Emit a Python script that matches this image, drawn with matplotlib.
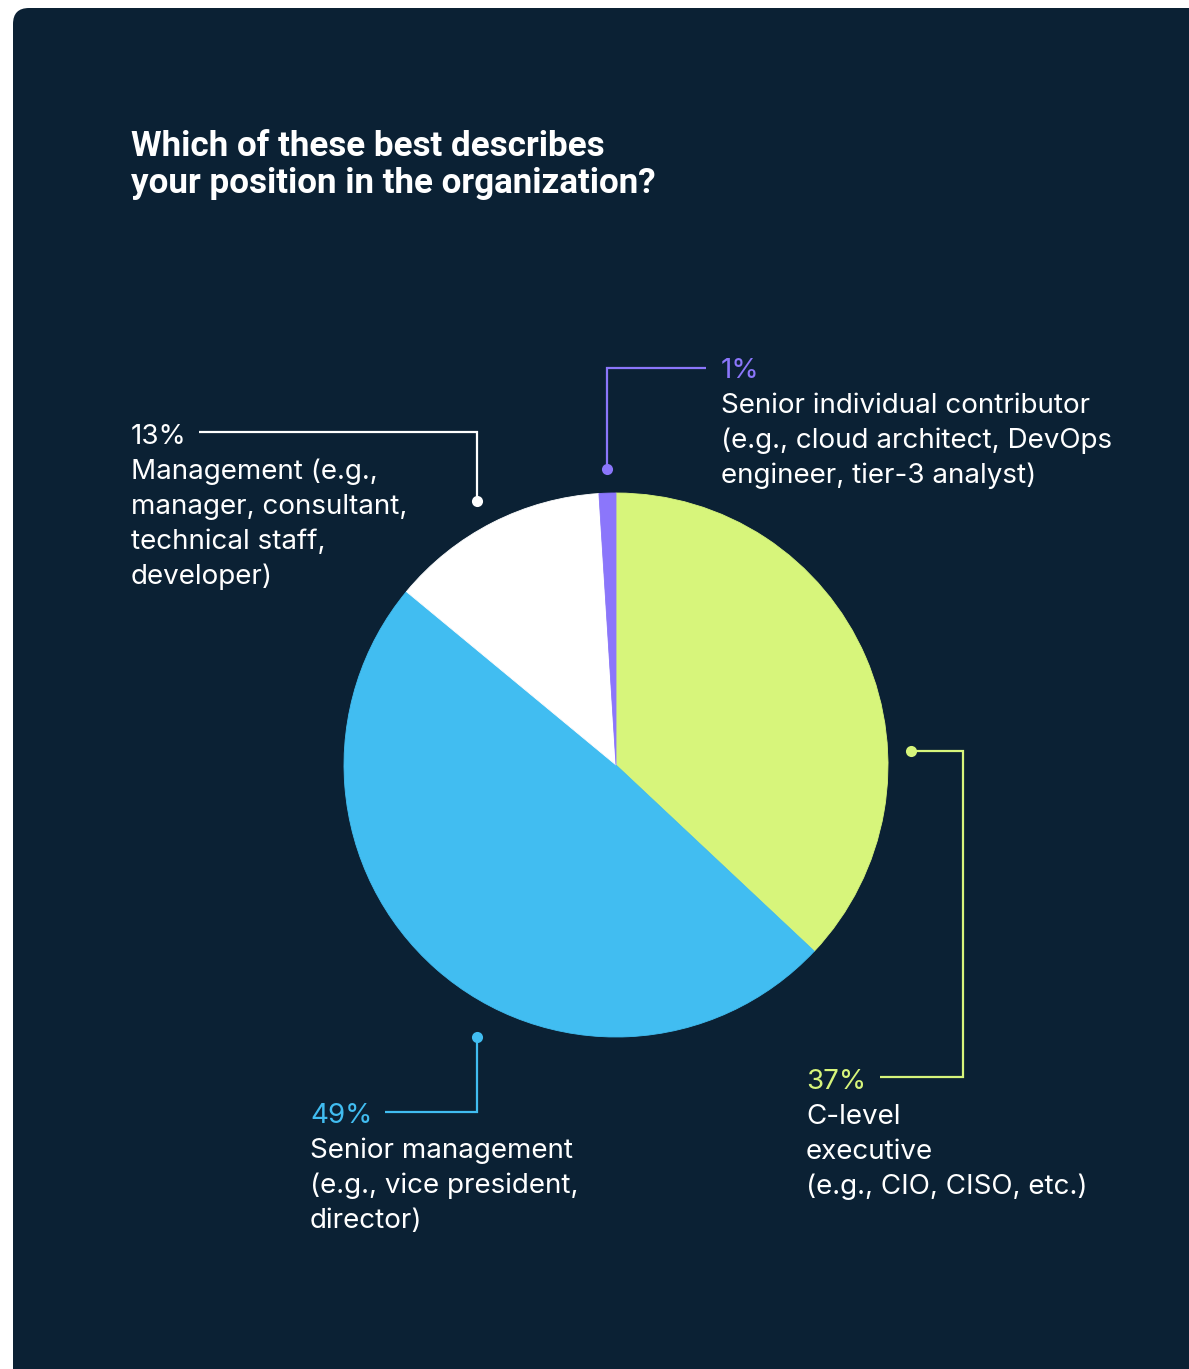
import matplotlib.pyplot as plt
import matplotlib.patches as patch

# survey answers, clockwise from 12 o'clock
shares = [37, 49, 13, 1]
labels = [
    ["C-level", "executive", "(e.g., CIO, CISO, etc.)"],
    ["Senior management", "(e.g., vice president,", "director)"],
    ["Management (e.g.,", "manager, consultant,", "technical staff,", "developer)"],
    ["Senior individual contributor", "(e.g., cloud architect, DevOps", "engineer, tier-3 analyst)"],
]
colors = ["#d7f57b", "#41bdf1", "#ffffff", "#8b76fb"]
title_lines = ["Which of these best describes", "your position in the organization?"]

BG = "#0b2134"
W, H = 1189, 1369

fig = plt.figure(figsize=(W / 100, H / 100), dpi=100)
fig.patch.set_facecolor("white")
ax = fig.add_axes([0, 0, 1, 1])

def Y(y):
    # pixel rows counted from the top
    return H - y

# rounded card
card = patch.FancyBboxPatch((13, Y(1400)), 1220, 1392, boxstyle="round,pad=0,rounding_size=16",
                            facecolor=BG, edgecolor="none")
ax.add_patch(card)

for k, line in enumerate(title_lines):
    ax.text(131, Y(146 + 38 * k), line, color="white", fontsize=25.2,
            fontweight="bold", family="Roboto", va="center", ha="left")

wedges, _ = ax.pie(shares, colors=colors, startangle=90, counterclock=False,
                   center=(616, Y(765)), radius=272, frame=True)
for w in wedges:
    w.set_edgecolor(w.get_facecolor())
    w.set_linewidth(0.6)

ax.set_xlim(0, W)
ax.set_ylim(0, H)
ax.set_aspect("equal")
ax.axis("off")

font = "Inter"
fs = 20
lh = 35

# leader line paths (dot first) and where each text block starts
leaders = [
    ([(911, 751), (963, 751), (963, 1077), (880, 1077)], 806, 1082),
    ([(477, 1037), (477, 1112), (385, 1112)], 310, 1116),
    ([(477, 501), (477, 432), (199, 432)], 131, 437),
    ([(607, 469), (607, 368), (706, 368)], 721, 371),
]

for i, (pts, tx, ty) in enumerate(leaders):
    xs = [p[0] for p in pts]
    ys = [Y(p[1]) for p in pts]
    ax.plot(xs, ys, color=colors[i], lw=1.6, solid_capstyle="butt", solid_joinstyle="miter")
    ax.plot(xs[0], ys[0], "o", color=colors[i], ms=8, mew=0)
    ax.text(tx, Y(ty), f"{shares[i]}%", color=colors[i], fontsize=fs,
            family=font, va="center", ha="left")
    for j, line in enumerate(labels[i]):
        ax.text(tx, Y(ty + lh * (j + 1)), line, color="white", fontsize=fs,
                family=font, va="center", ha="left")

fig.savefig("out.png", dpi=100, facecolor=fig.get_facecolor())
